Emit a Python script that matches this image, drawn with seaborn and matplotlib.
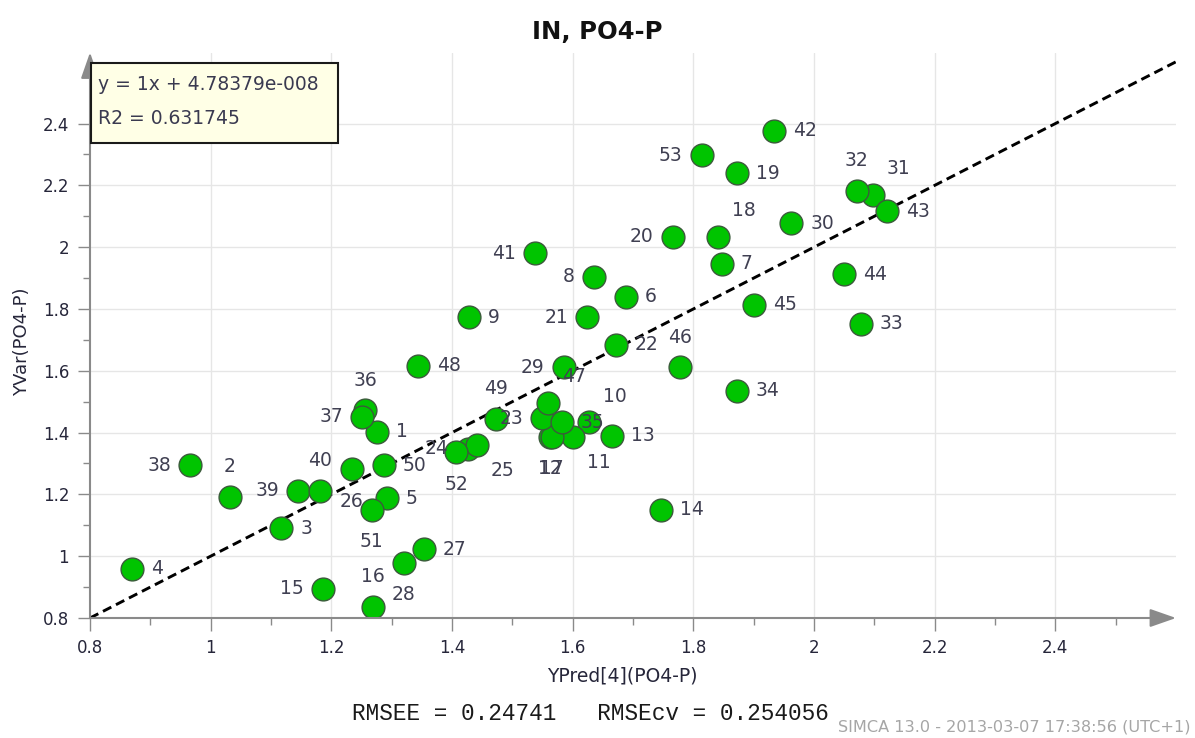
import numpy as np
import pandas as pd
import matplotlib
matplotlib.use("Agg")
import matplotlib.pyplot as plt
import seaborn as sns
from matplotlib.ticker import FixedLocator, FixedFormatter
from matplotlib.patches import Rectangle

# ---------------- data ----------------
obs_ids = list(range(1, 54))
ypred = [1.276, 1.032, 1.117, 0.870, 1.292, 1.688, 1.847, 1.635, 1.428, 1.627,
         1.600, 1.562, 1.665, 1.746, 1.186, 1.269, 1.566, 1.841, 1.872, 1.766,
         1.624, 1.672, 1.549, 1.426, 1.441, 1.234, 1.353, 1.320, 1.585, 1.962,
         2.097, 2.071, 2.078, 1.872, 1.582, 1.256, 1.251, 0.966, 1.145, 1.181,
         1.537, 1.933, 2.121, 2.049, 1.900, 1.778, 1.559, 1.344, 1.473, 1.287,
         1.267, 1.407, 1.814]
yvar = [1.402, 1.192, 1.091, 0.959, 1.188, 1.839, 1.946, 1.904, 1.774, 1.434,
        1.386, 1.386, 1.389, 1.150, 0.894, 0.836, 1.386, 2.033, 2.240, 2.033,
        1.774, 1.684, 1.447, 1.347, 1.360, 1.282, 1.023, 0.978, 1.612, 2.078,
        2.169, 2.182, 1.752, 1.535, 1.434, 1.473, 1.451, 1.295, 1.211, 1.211,
        1.981, 2.376, 2.117, 1.913, 1.813, 1.612, 1.496, 1.616, 1.444, 1.295,
        1.150, 1.337, 2.298]

title = "IN, PO4-P"
xlabel = "YPred[4](PO4-P)"
ylabel = "YVar(PO4-P)"
fit_text = "y = 1x + 4.78379e-008"
r2_text = "R2 = 0.631745"
footer = "RMSEE = 0.24741   RMSEcv = 0.254056"
stamp = "SIMCA 13.0 - 2013-03-07 17:38:56 (UTC+1)"
tick_vals = [0.8, 1.0, 1.2, 1.4, 1.6, 1.8, 2.0, 2.2, 2.4]
tick_labels = ["0.8", "1", "1.2", "1.4", "1.6", "1.8", "2", "2.2", "2.4"]

# label placement (layout only)
label_dir = {}
for i in [1, 3, 4, 5, 6, 7, 9, 13, 14, 19, 22, 27, 30, 33, 34, 35, 42, 43, 44, 45, 48, 50]:
    label_dir[i] = "r"
for i in [8, 15, 20, 21, 23, 24, 29, 37, 38, 39, 41, 53]:
    label_dir[i] = "l"
for i in [2, 16, 32, 36, 40, 46, 49]:
    label_dir[i] = "a"
for i in [12, 17, 26, 28, 51, 52]:
    label_dir[i] = "b"
for i in [10, 18, 31, 47]:
    label_dir[i] = "ar"
for i in [11, 25]:
    label_dir[i] = "br"

px = 0.72  # points per pixel at dpi 100
offsets = {
    "r": ((19 * px, 0), "left", "center"),
    "l": ((-19 * px, 0), "right", "center"),
    "a": ((0, 30 * px), "center", "center"),
    "b": ((0, -32 * px), "center", "center"),
    "ar": ((26 * px, 26 * px), "center", "center"),
    "br": ((26 * px, -26 * px), "center", "center"),
}

df = pd.DataFrame({"obs": obs_ids, "ypred": ypred, "yvar": yvar})

# ---------------- figure ----------------
sns.set_theme(style="white")
plt.rcParams["font.family"] = ["DejaVu Sans"]

W, H = 1195, 738
fig = plt.figure(figsize=(W / 100, H / 100), dpi=100)
fig.patch.set_facecolor("white")
ax = fig.add_axes([90 / W, (H - 618) / H, (1176 - 90) / W, (618 - 52.5) / H])
ax.set_facecolor("white")

xmin, xmax = 0.8, 2.6
ymin, ymax = 0.8, 2.63
ax.set_xlim(xmin, xmax)
ax.set_ylim(ymin, ymax)

# grid
for v in tick_vals[1:]:
    ax.axvline(v, color="#e6e6e6", lw=1.0, zorder=0)
    ax.axhline(v, color="#e6e6e6", lw=1.0, zorder=0)

# 1:1 line
ax.plot([0.8, 2.7], [0.8, 2.7], color="black", lw=2.1, ls=(0, (3.2, 1.8)), zorder=2)

# points
sns.scatterplot(data=df, x="ypred", y="yvar", s=270, color="#00c400",
                edgecolor="#3b5a3b", linewidth=1.0, ax=ax, zorder=3, legend=False)

# labels
for i, xv, yv in zip(obs_ids, ypred, yvar):
    (dx, dy), ha, va = offsets[label_dir[i]]
    ax.annotate(str(i), (xv, yv), xytext=(dx, dy), textcoords="offset points",
                ha=ha, va=va, fontsize=13.5, color="#404052", zorder=5)

# axes styling
for s in ax.spines.values():
    s.set_visible(False)
ax.xaxis.set_major_locator(FixedLocator(tick_vals))
ax.xaxis.set_major_formatter(FixedFormatter(tick_labels))
ax.yaxis.set_major_locator(FixedLocator(tick_vals))
ax.yaxis.set_major_formatter(FixedFormatter(tick_labels))
ax.xaxis.set_minor_locator(FixedLocator([0.9, 1.1, 1.3, 1.5, 1.7, 1.9, 2.1, 2.3, 2.5]))
ax.yaxis.set_minor_locator(FixedLocator([0.9, 1.1, 1.3, 1.5, 1.7, 1.9, 2.1, 2.3]))
ax.tick_params(axis="both", which="major", direction="out", length=9, width=1,
               color="#8a8a8a", labelsize=12, labelcolor="#26263a", pad=6,
               bottom=True, left=True)
ax.tick_params(axis="both", which="minor", direction="out", length=5, width=1,
               color="#8a8a8a", bottom=True, left=True)
ax.set_xlabel("")
ax.set_ylabel("")

# axis lines with arrows
arrow = dict(arrowstyle="-|>,head_length=1.0,head_width=0.35", color="#8a8a8a",
             lw=1.5, mutation_scale=16, shrinkA=0, shrinkB=0)
ax.annotate("", xy=(1.0, 0), xytext=(0, 0), xycoords="axes fraction",
            textcoords="axes fraction", arrowprops=arrow, zorder=6, annotation_clip=False)
ax.annotate("", xy=(0, 1.0), xytext=(0, 0), xycoords="axes fraction",
            textcoords="axes fraction", arrowprops=arrow, zorder=6, annotation_clip=False)

# texts
fig.text(597 / W, 1 - 32 / H, title, ha="center", va="center", fontsize=17.5,
         fontweight="bold", color="#111111")
fig.text(622 / W, 1 - 676 / H, xlabel, ha="center", va="center", fontsize=13.5,
         color="#26263a")
fig.text(22 / W, 1 - 342 / H, ylabel, ha="center", va="center", fontsize=13,
         rotation=90, color="#26263a")
fig.text(352 / W, 1 - 713 / H, footer, ha="left", va="center", fontsize=16.4,
         family="Liberation Mono", color="#1a1a1a")
fig.text(1191 / W, 1 - 727 / H, stamp, ha="right", va="center", fontsize=11.6,
         color="#a6a6a6")

# equation box
box = Rectangle((91 / W, 1 - 143 / H), 247 / W, 80 / H, transform=fig.transFigure,
                facecolor="#ffffe6", edgecolor="#1a1a1a", lw=1.5, zorder=10)
fig.patches.append(box)
fig.text(98 / W, 1 - 84 / H, fit_text, ha="left", va="center", fontsize=13.5,
         color="#3a3a50", zorder=11)
fig.text(98 / W, 1 - 118 / H, r2_text, ha="left", va="center", fontsize=13.5,
         color="#3a3a50", zorder=11)

fig.savefig("out.png", dpi=100)
